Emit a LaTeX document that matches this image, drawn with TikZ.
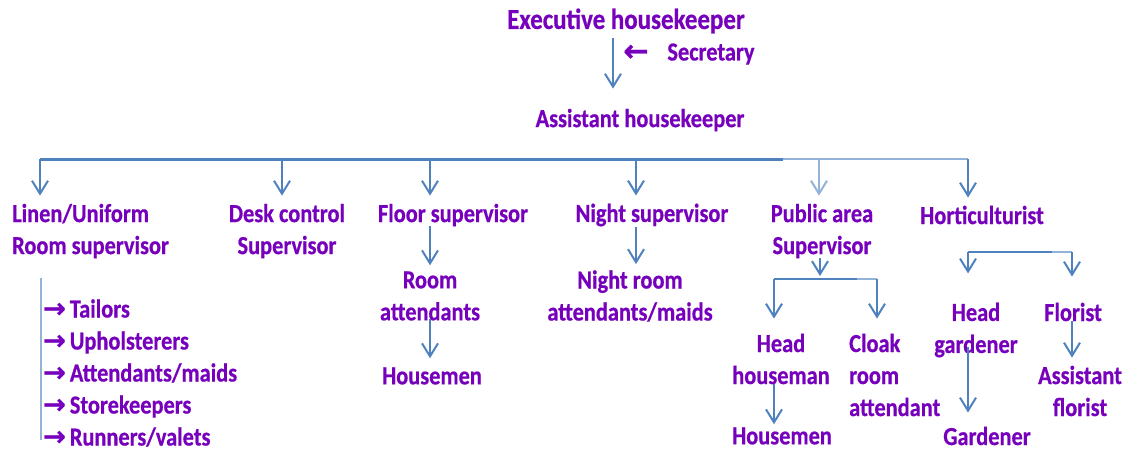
\documentclass[tikz,border=0pt]{standalone}
\usepackage{fontspec}
\newfontfamily\lblfont{Carlito}[FakeStretch=0.86, FakeBold=0.6]
\newfontfamily\symfont{DejaVu Sans}[FakeBold=1.2]
\usetikzlibrary{arrows.meta}
\definecolor{txt}{RGB}{118,0,188}
\definecolor{link}{RGB}{79,129,189}
\definecolor{linklight}{RGB}{146,178,216}
% bullet arrow in front of each staff line
\newcommand{\bularrow}{\smash{\symfont\bfseries\fontsize{27}{32}\selectfont →}\hspace{4pt}}

\begin{document}
\begin{tikzpicture}[x=1pt,y=-1pt,
  lbl/.style={text=txt, font=\lblfont\bfseries\fontsize{26}{32}\selectfont,
              inner sep=0pt, align=center},
  conn/.style={draw=link, line width=2pt},
  connlight/.style={draw=linklight, line width=2pt},
  tip/.style={-{Straight Barb[length=13pt,width=16pt,line width=2pt]}},
  arrowsym/.style={font=\symfont\bfseries\fontsize{30}{32}\selectfont}
]
\useasboundingbox (0,0) rectangle (1125,451);

% ---- labels -------------------------------------------------------------
\node[lbl, font=\lblfont\bfseries\fontsize{29}{32}\selectfont] (exec) at (626,21) {Executive housekeeper};
\node[lbl, arrowsym] (secarr) at (636,53) {←};
\node[lbl] (sec) at (711,54) {Secretary};
\node[lbl] (asst) at (640,120) {Assistant housekeeper};

\node[lbl, align=left, anchor=west] (linen) at (12,231) {Linen/Uniform\\Room supervisor};
\node[lbl] (desk) at (287,231) {Desk control\\Supervisor};
\node[lbl] (floor) at (453,215) {Floor supervisor};
\node[lbl] (night) at (652,215) {Night supervisor};
\node[lbl] (public) at (822,231) {Public area\\Supervisor};
\node[lbl] (horti) at (982,215) {Horticulturist};

\node[lbl, align=left, anchor=west] (staff) at (43,373)
  {\bularrow Tailors\\
   \bularrow Upholsterers\\
   \bularrow Attendants/maids\\
   \bularrow Storekeepers\\
   \bularrow Runners/valets};

\node[lbl] (room) at (430,296) {Room\\attendants};
\node[lbl] (housemenA) at (432,376) {Housemen};
\node[lbl] (nightroom) at (630,296) {Night room\\attendants/maids};

\node[lbl] (headhouse) at (781,359) {Head\\houseman};
\node[lbl] (housemenB) at (782,436) {Housemen};
\node[lbl, align=left, anchor=west] (cloak) at (849,375) {Cloak\\room\\attendant};

\node[lbl] (headgard) at (976,330) {Head\\gardener};
\node[lbl] (gardener) at (987,436) {Gardener};
\node[lbl] (florist) at (1073,312) {Florist};
\node[lbl] (asstflor) at (1080,391) {Assistant\\florist};

% ---- junction points ----------------------------------------------------
\coordinate (top) at (613,38);
\coordinate (b1) at (40,159);
\coordinate (b2) at (282,159);
\coordinate (b3) at (430,159);
\coordinate (b4) at (636,159);
\coordinate (b5) at (819,159);
\coordinate (b6) at (968,159);
\coordinate (bmid) at (783,159);
\coordinate (pj) at (820,279);
\coordinate (p1) at (774,279);
\coordinate (p2) at (877,279);
\coordinate (pmid) at (857,279);
\coordinate (h1) at (968,252);
\coordinate (h2) at (1072,252);
\coordinate (hmid) at (1052,252);
\coordinate (l1) at (41,278);
\coordinate (l2) at (41,440);

% ---- connectors ---------------------------------------------------------
\draw[conn, tip, shorten >=20pt] (top) -- (asst.north -| top);

\draw[conn, line width=3pt] (b1) -- (bmid);
\draw[connlight, line width=2.5pt] (bmid) -- (b6);

\draw[conn, tip, shorten >=8pt] (b1) -- (linen.north -| b1);
\draw[conn, tip, shorten >=8pt] (b2) -- (desk.north -| b2);
\draw[conn, tip, shorten >=8pt] (b3) -- (floor.north -| b3);
\draw[conn, tip, shorten >=8pt] (b4) -- (night.north -| b4);
\draw[connlight, tip, shorten >=8pt] (b5) -- (public.north -| b5);
\draw[conn, tip, shorten >=8pt] (b6) -- (horti.north -| b6);

\draw[connlight] (l1) -- (l2);

\draw[conn, tip, shorten >=6pt] (floor.south -| b3) -- (room.north -| b3);
\draw[conn, tip, shorten <=-2pt, shorten >=9pt] (room.south -| b3) -- (housemenA.north -| b3);
\draw[conn, tip, shorten >=6pt] (night.south -| b4) -- (nightroom.north -| b4);

\draw[conn, tip, shorten >=3pt] (public.south -| pj) -- (pj);
\draw[conn] (p1) -- (pmid);
\draw[connlight] (pmid) -- (p2);
\draw[conn, tip, shorten >=15pt] (p1) -- (headhouse.north -| p1);
\draw[conn, tip, shorten >=15pt] (p2) -- (cloak.north -| p2);
\draw[conn, tip, shorten >=3pt] (headhouse.south -| p1) -- (housemenB.north -| p1);

\draw[conn] (h1) -- (hmid);
\draw[connlight] (hmid) -- (h2);
\draw[conn, tip, shorten >=29pt] (h1) -- (headgard.north -| h1);
\draw[conn, tip, shorten >=26pt] (h2) -- (florist.north -| h2);
\draw[conn, tip, shorten <=17pt, shorten >=14pt] (headgard.center -| h1) -- (gardener.north -| h1);
\draw[conn, tip, shorten >=8pt] (florist.south -| h2) -- (asstflor.north -| h2);
\end{tikzpicture}
\end{document}
